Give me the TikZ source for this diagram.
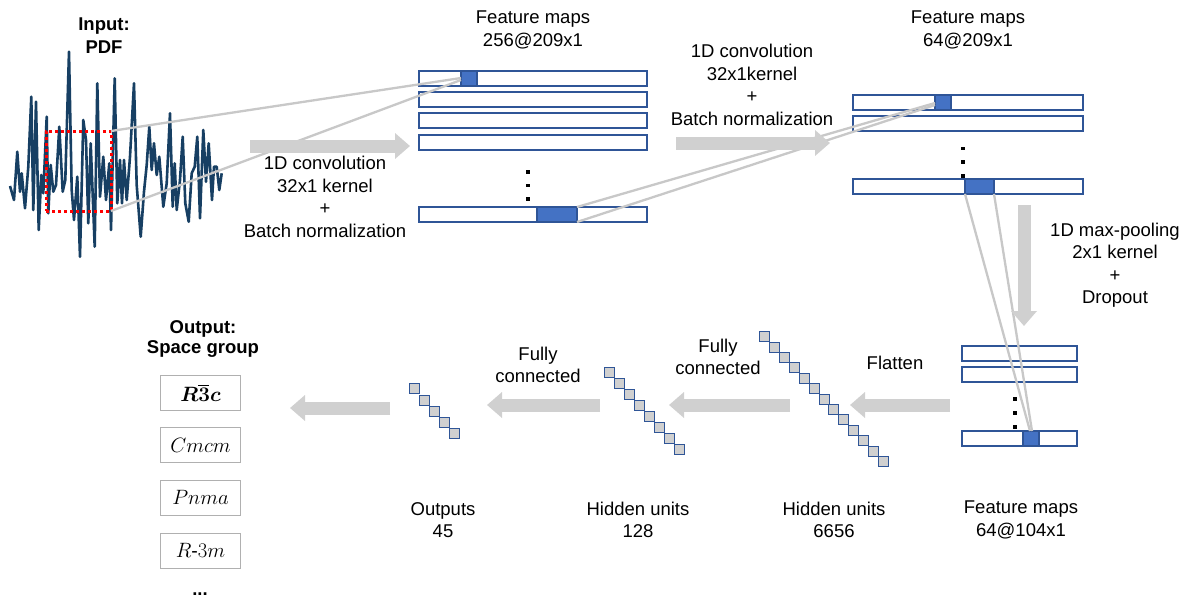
\documentclass[tikz,border=0pt]{standalone}
\usepackage{fontspec}
\usepackage{bm}
\setmainfont{Liberation Sans}
\usetikzlibrary{arrows.meta}
\definecolor{sigblue}{HTML}{173F63}
\definecolor{barblue}{HTML}{2F5597}
\definecolor{fillblue}{HTML}{4472C4}
\definecolor{connc}{HTML}{C8C8C8}
\definecolor{arrowgrey}{HTML}{D0D0D0}
\definecolor{boxgrey}{HTML}{B0B0B0}
\begin{document}
\begin{tikzpicture}[x=1pt,y=-1pt,
 lab/.style={font=\fontsize{18.5}{22.5}\selectfont, align=center, inner sep=0pt},
 blab/.style={font=\fontsize{18.5}{23}\selectfont\bfseries, align=center, inner sep=0pt},
 bar/.style={draw=barblue, line width=1.1pt, fill=white, minimum height=15pt, inner sep=0pt, outer sep=0pt, anchor=north west},
 blk/.style={draw=barblue, line width=1.1pt, fill=fillblue, minimum height=15pt, inner sep=0pt, outer sep=0pt, anchor=north west},
 unit/.style={draw=barblue, line width=1pt, fill=arrowgrey, minimum size=10pt, inner sep=0pt},
 connl/.style={draw=connc, line width=2.3pt},
 fat/.style={line width=13pt, draw=arrowgrey, -{Triangle[width=25pt,length=15pt]}},
 dotn/.style={fill=black, minimum size=3.6pt, inner sep=0pt},
 sg/.style={draw=boxgrey, line width=1pt, minimum width=80pt, minimum height=35pt, inner sep=0pt, font=\fontsize{19.5}{23}\selectfont}
]
\useasboundingbox (0,0) rectangle (1183,598);
\fill[white] (0,0) rectangle (1183,598);

% input signal
\draw[sigblue, line width=2.6pt, line join=round] plot coordinates {
(10,186) (14,200) (17.3,151.7) (20,191.7) (21.7,173.3) (25,208.3) (28.3,166.7) (31.3,96.7) (33.3,210) (36,101.7) (38.7,230) (41.3,175) (43.3,193.3) (46.7,116.7) (48.3,213.3) (50.7,165) (53.3,191.7) (56,185) (59.3,126.7) (62.7,191.7) (65.3,180) (69,51.7) (71.7,190) (74,220) (77.3,176.7) (80,256.7) (83.3,120) (86,140) (88.3,223.3) (90.7,143.3) (94.7,246.7) (97.3,83.3) (100,196.7) (103.3,156.7) (106,200) (109.3,163.3) (111,230) (114.7,78.3) (117.3,203.3) (120,160) (122,203.3) (124,160) (126.7,200) (130,156.7) (134,83.3) (136.7,185) (140.7,236.7) (144,191.7) (146.7,165) (149.3,126.7) (151.7,170) (154,143.3) (156.7,175) (159.3,156.7) (163.3,206.7) (166.7,183.3) (170,113.3) (172.7,206.7) (174.7,163.3) (176.7,210) (180,180) (182.7,136.7) (185.3,203.3) (188.7,221.7) (191.7,173.3) (194.7,166.7) (197.3,136.7) (200,218.3) (203.3,130) (206,181.7) (208.7,143.3) (212,200) (214,166.7) (216.7,166.7) (219.3,190) (221.7,173.3)};
\node[draw=red, line width=3pt, dash pattern=on 3pt off 3pt, minimum width=65pt, minimum height=80pt, inner sep=0pt, outer sep=0pt, anchor=north west] (win) at (46,131) {};

\node[blab] (inp) at (104,36) {Input:\\PDF};

% feature maps 1
\node[bar, minimum width=228pt] (a1) at (419,71) {};
\node[bar, minimum width=228pt] (a2) at (419,92) {};
\node[bar, minimum width=228pt] (a3) at (419,113) {};
\node[bar, minimum width=228pt] (a4) at (419,135) {};
\node[bar, minimum width=228pt] (a5) at (419,207) {};
\node[blk, minimum width=16pt] (ab1) at (461,71) {};
\node[blk, minimum width=40pt] (ab5) at (537,207) {};
\node[dotn] (ad1) at (528,172) {};
\node[dotn] (ad2) at (528,185.5) {};
\node[dotn] (ad3) at (528,199) {};
\node[lab] (t1) at (533,30) {Feature maps\\256@209x1};

% feature maps 2
\node[bar, minimum width=230pt] (b1) at (853,95) {};
\node[bar, minimum width=230pt] (b2) at (853,116) {};
\node[bar, minimum width=230pt] (b3) at (853,179) {};
\node[blk, minimum width=16pt] (bb1) at (935,95) {};
\node[blk, minimum width=29pt] (bb3) at (965,179) {};
\node[dotn] (bd1) at (963,148.5) {};
\node[dotn] (bd2) at (963,162) {};
\node[dotn] (bd3) at (963,176) {};
\node[lab] (t2) at (968,30) {Feature maps\\64@209x1};

% feature maps 3
\node[bar, minimum width=115pt] (c1) at (962,346) {};
\node[bar, minimum width=115pt] (c2) at (962,367) {};
\node[bar, minimum width=115pt] (c3) at (962,431) {};
\node[blk, minimum width=16pt] (cb3) at (1023,431) {};
\node[dotn] (cd1) at (1015,399) {};
\node[dotn] (cd2) at (1015,413) {};
\node[dotn] (cd3) at (1015,427) {};
\node[lab] (t3) at (1021,520) {Feature maps\\64@104x1};

% connector lines
\coordinate (p1) at (461,78);
\coordinate (p2) at (461,80);
\draw[connl] (win.north east) -- (p1);
\draw[connl] (win.south east) -- (p2);
\coordinate (q1) at (935,103);
\coordinate (q2) at (935,105);
\draw[connl] (ab5.north east) -- (q1);
\draw[connl] (ab5.south east) -- (q2);
\coordinate (r1) at (1030,431);
\coordinate (r2) at (1032,431);
\draw[connl] (bb3.south west) -- (r1);
\draw[connl] (bb3.south east) -- (r2);

% big arrows
\coordinate (A1s) at (250,146); \coordinate (A1e) at (410,146);
\coordinate (A2s) at (676,143); \coordinate (A2e) at (830,143);
\coordinate (A3s) at (1024,205); \coordinate (A3e) at (1024,326);
\coordinate (A4s) at (950,405); \coordinate (A4e) at (850,405);
\coordinate (A5s) at (790,405); \coordinate (A5e) at (669,405);
\coordinate (A6s) at (600,405); \coordinate (A6e) at (487,405);
\coordinate (A7s) at (390,408); \coordinate (A7e) at (290,408);
\draw[fat] (A1s) -- (A1e);
\draw[fat] (A2s) -- (A2e);
\draw[fat] (A3s) -- (A3e);
\draw[fat] (A4s) -- (A4e);
\draw[fat] (A5s) -- (A5e);
\draw[fat] (A6s) -- (A6e);
\draw[fat] (A7s) -- (A7e);

% labels of arrows
\node[lab] (l1) at (325,197) {1D convolution\\32x1 kernel\\+\\Batch normalization};
\node[lab] (l2) at (752,85) {1D convolution\\32x1kernel\\+\\Batch normalization};
\node[lab] (l3) at (1115,265) {1D max-pooling\\2x1 kernel\\+\\Dropout};
\node[lab] (l4) at (895,363) {Flatten};
\node[lab] (l5) at (718,357) {Fully\\connected};
\node[lab] (l6) at (538,365) {Fully\\connected};

% hidden units 6656
\foreach \i in {0,...,12} {
  \node[unit] (h\i) at ({764.3+9.95*\i},{336.7+10.4*\i}) {};
}
\node[lab] (t4) at (834,520) {Hidden units\\6656};
% hidden units 128
\foreach \i in {0,...,7} {
  \node[unit] (g\i) at ({609.7+10*\i},{372+11*\i}) {};
}
\node[lab] (t5) at (638,520) {Hidden units\\128};
% outputs 45
\foreach \i in {0,...,4} {
  \node[unit] (o\i) at ({414.3+10*\i},{388.7+11.3*\i}) {};
}
\node[lab] (t6) at (443,520) {Outputs\\45};

% output space group
\node[font=\fontsize{18.5}{19.5}\selectfont\bfseries, align=center, inner sep=0pt] (out) at (203,339) {Output:\\Space group};
\node[sg] (s1) at (200.5,393) {$\bm{R}$\makebox[0pt][l]{\raisebox{15pt}{\rule{11pt}{1.4pt}}}$\bm{3c}$};
\node[sg] (s2) at (200.5,445) {$Cmcm$};
\node[sg] (s3) at (200.5,497.7) {$Pnma$};
\node[sg] (s4) at (200.5,550.7) {$R$-$3m$};
\node[font=\fontsize{18.5}{22}\selectfont\bfseries, inner sep=0pt] (s5) at (200,594) {...};
\end{tikzpicture}
\end{document}
